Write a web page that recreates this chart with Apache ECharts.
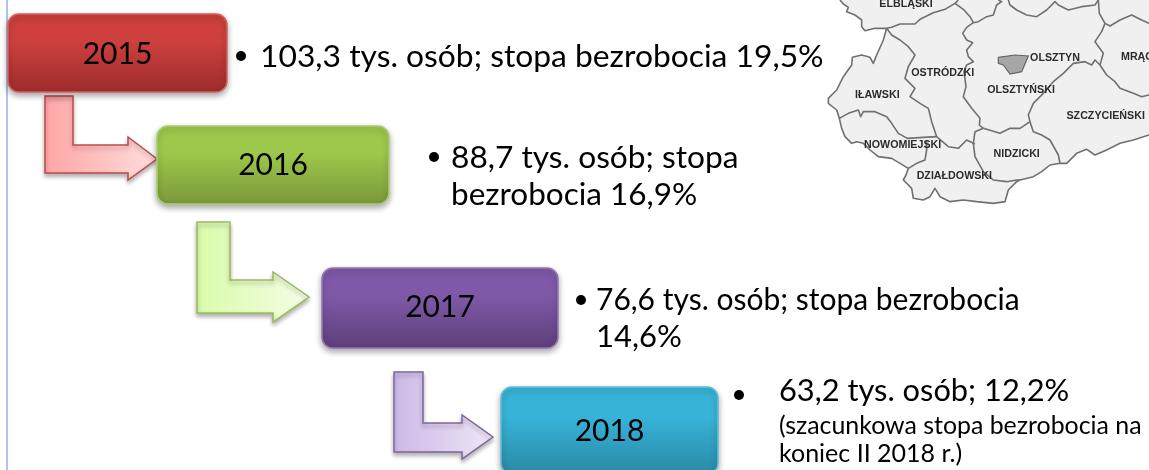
<!DOCTYPE html>
<html>
<head>
<meta charset="utf-8">
<style>html,body{margin:0;padding:0;background:#fff;overflow:hidden}#main{width:1149px;height:470px}</style>
<script src="https://cdn.jsdelivr.net/npm/echarts@6/dist/echarts.min.js"></script>
</head>
<body>
<div id="main"></div>
<script>
// dane
var years = ['2015', '2016', '2017', '2018'];
var unemployed = ['103,3', '88,7', '76,6', '63,2'];
var rates = ['19,5', '16,9', '14,6', '12,2'];
var note = ['(szacunkowa stopa bezrobocia na', 'koniec II 2018 r.)'];
var countyNames = ['ELBLĄSKI', 'OSTRÓDZKI', 'IŁAWSKI', 'OLSZTYN', 'OLSZTYŃSKI', 'SZCZYCIEŃSKI', 'NOWOMIEJSKI', 'NIDZICKI', 'DZIAŁDOWSKI', 'MRĄGOWSKI'];

// uklad - prostokaty lat [x0,y0,x1,y1]
var boxPos = [[8, 14, 227, 92], [157, 126, 389, 204], [322, 268, 558, 348], [501, 387, 718, 474]];
var boxTextY = [54, 165, 307, 431];
var boxTop = ['#CD403D', '#9DC84B', '#7F59A7', '#37B3D7'];
var boxBottom = ['#9C2D2B', '#7A9839', '#5E3E7B', '#2A88A6'];
var boxLine = ['#D2625F', '#AECB73', '#9277B3', '#62BDD6'];
// strzalki [xL, xR, top, innerY, headX, headTop, tipX, tipY, headBottom, shaftBottom]
var arrowPos = [
    [45, 73, 96, 145, 128, 137, 157, 159, 180, 173],
    [197, 230, 222, 280, 273, 272, 309, 297, 322, 313],
    [394, 423, 372, 423, 462, 415, 493, 437, 459, 452]
];
var arrowFrom = ['#FFA5A5', '#D9FBA9', '#CBB8E6'];
var arrowTo = ['#FFDEDC', '#F5FDE6', '#EEE8F6'];
var arrowLine = ['#BE4B48', '#9BBB59', '#8064A2'];

// teksty opisow
var textLines = [
    { t: unemployed[0] + ' tys. osób; stopa bezrobocia ' + rates[0] + '%', x: 260, y: 57, s: 31.8 },
    { t: unemployed[1] + ' tys. osób; stopa', x: 451, y: 158, s: 31.7 },
    { t: 'bezrobocia ' + rates[1] + '%', x: 451, y: 195, s: 31.5 },
    { t: unemployed[2] + ' tys. osób; stopa bezrobocia', x: 596, y: 300, s: 30 },
    { t: rates[2] + '%', x: 596, y: 337, s: 31 },
    { t: unemployed[3] + ' tys. osób; ' + rates[3] + '%', x: 779, y: 391, s: 30.8 },
    { t: note[0], x: 779, y: 426, s: 24.9 },
    { t: note[1], x: 779, y: 454, s: 25 }
];
var bulletPos = [[241, 56], [434, 157], [581, 300], [739, 395]];

// mapa - wspolrzedne w siatce 987x645
var landShape = [[60,0],[70,12],[85,22],[80,35],[105,45],[125,60],[125,80],[135,92],[165,85],[200,85],[190,120],[170,165],[160,190],[150,172],[125,165],[97,172],[95,195],[70,230],[50,270],[25,295],[25,310],[50,330],[58,355],[65,385],[75,410],[95,430],[110,425],[130,430],[150,450],[175,470],[215,475],[240,490],[265,505],[258,525],[250,540],[275,565],[280,595],[310,600],[330,590],[345,565],[360,590],[390,605],[430,600],[470,605],[520,610],[555,605],[565,570],[590,545],[600,540],[640,530],[665,515],[690,495],[720,490],[740,490],[770,460],[800,448],[825,465],[860,450],[900,430],[940,420],[987,405],[987,0]];
var borderLines = [
    [[60,0],[70,12],[85,22],[80,35],[105,45],[125,60],[125,80],[135,92],[165,85],[200,85],[215,82],[240,72],[285,72],[300,58],[340,38],[375,28],[405,10],[415,0]],
    [[405,10],[430,28],[450,50],[460,68],[440,82],[428,100],[440,120],[458,128],[440,150],[445,170],[460,185],[440,195],[432,215],[438,260],[430,290],[455,325],[480,355],[478,375],[490,385],[465,395],[460,430],[465,470],[490,515],[520,540],[560,545],[590,540],[600,540]],
    [[460,68],[475,65],[500,50],[520,45],[530,15],[545,5],[535,0]],
    [[200,85],[190,120],[170,165],[160,190],[150,172],[125,165],[97,172],[95,195],[70,230],[50,270],[25,295],[25,310],[50,330],[58,355],[65,385],[75,410],[95,430],[110,425],[130,430],[150,450],[175,470],[215,475],[240,490],[265,505],[258,525],[250,540],[275,565],[280,595],[310,600],[330,590],[345,565],[360,590],[390,605],[430,600],[470,605],[520,610],[555,605],[565,570],[590,545],[600,540],[640,530],[665,515],[690,495],[720,490],[740,490],[770,460],[800,448],[825,465],[860,450],[900,430],[940,420],[987,405]],
    [[200,85],[215,105],[240,120],[265,140],[285,165],[265,200],[255,235],[285,265],[270,290],[300,310],[325,325],[335,365],[350,410],[385,440],[415,445],[440,420],[465,432]],
    [[58,355],[85,340],[115,330],[122,350],[130,335],[165,335],[200,350],[215,370],[235,400],[262,415],[310,412],[350,410]],
    [[320,420],[320,450],[315,480],[290,490],[265,505]],
    [[565,0],[570,15],[590,30],[620,45],[650,50],[680,30],[705,5],[715,15],[745,30],[785,20],[825,15],[835,0]],
    [[835,0],[838,40],[855,70],[845,95],[825,125],[850,160],[840,195]],
    [[855,70],[870,78],[900,60],[935,45],[965,60],[987,70]],
    [[840,195],[825,180],[815,195],[795,185],[760,190],[730,220],[700,245],[670,280],[640,310],[625,345],[630,365],[600,385],[570,385],[540,400],[490,385]],
    [[840,195],[860,225],[885,245],[900,265],[940,280],[965,290],[987,285]],
    [[630,365],[640,395],[665,405],[690,420],[715,465],[720,490]]
];
var cityShape = [[535,172],[585,165],[625,168],[605,215],[570,222],[550,195],[535,190]];
var countyLabelPos = [[258,13],[368,220],[172,285],[705,175],[603,270],[857,347],[248,436],[590,463],[403,528],[903,172]];

function idx(arr) {
    return arr.map(function (d, i) { return [i]; });
}

var myChart = echarts.init(document.getElementById('main'), null, { renderer: 'canvas' });
var fontMain = 'Lato, "Open Sans", sans-serif';

var option = {
    animation: false,
    grid: [
        { left: 0, top: 0, width: 1149, height: 470 },
        { left: 820, top: 0, width: 329, height: 215 }
    ],
    xAxis: [
        { type: 'value', min: 0, max: 1149, show: false, gridIndex: 0 },
        { type: 'value', min: 0, max: 987, show: false, gridIndex: 1 }
    ],
    yAxis: [
        { type: 'value', min: 0, max: 470, inverse: true, show: false, gridIndex: 0 },
        { type: 'value', min: 0, max: 645, inverse: true, show: false, gridIndex: 1 }
    ],
    series: [
        // linia po lewej
        {
            type: 'custom', xAxisIndex: 0, yAxisIndex: 0, silent: true, clip: false, data: [[0]],
            renderItem: function (params, api) {
                var a = api.coord([7, 0]), b = api.coord([7, 470]);
                return { type: 'line', shape: { x1: a[0], y1: a[1], x2: b[0], y2: b[1] }, style: { stroke: '#AEC6EE', lineWidth: 2 } };
            }
        },
        // mapa - tlo
        {
            type: 'custom', xAxisIndex: 1, yAxisIndex: 1, silent: true, clip: true, data: [[0]],
            renderItem: function (params, api) {
                return {
                    type: 'polygon',
                    shape: { points: landShape.map(function (p) { return api.coord(p); }) },
                    style: { fill: '#F0F0F0' }
                };
            }
        },
        // mapa - granice
        {
            type: 'custom', xAxisIndex: 1, yAxisIndex: 1, silent: true, clip: true, data: idx(borderLines),
            renderItem: function (params, api) {
                return {
                    type: 'polyline',
                    shape: { points: borderLines[params.dataIndex].map(function (p) { return api.coord(p); }) },
                    style: { fill: null, stroke: '#707070', lineWidth: 1.6, lineJoin: 'round' }
                };
            }
        },
        {
            type: 'custom', xAxisIndex: 1, yAxisIndex: 1, silent: true, clip: true, data: [[0]],
            renderItem: function (params, api) {
                return {
                    type: 'polygon',
                    shape: { points: cityShape.map(function (p) { return api.coord(p); }) },
                    style: { fill: '#A6A6A6', stroke: '#666', lineWidth: 1.2 }
                };
            }
        },
        {
            type: 'custom', xAxisIndex: 1, yAxisIndex: 1, silent: true, clip: false, data: idx(countyNames),
            renderItem: function (params, api) {
                var i = params.dataIndex, p = api.coord(countyLabelPos[i]);
                return {
                    type: 'text', x: p[0], y: p[1],
                    style: {
                        text: countyNames[i], fill: '#2B2B2B', font: 'bold 10.7px "Liberation Sans", sans-serif',
                        align: i === 9 ? 'left' : 'center', verticalAlign: 'middle'
                    }
                };
            }
        },
        // strzalki
        {
            type: 'custom', xAxisIndex: 0, yAxisIndex: 0, silent: true, clip: false, data: idx(arrowPos),
            renderItem: function (params, api) {
                var i = params.dataIndex, a = arrowPos[i];
                var pts = [[a[0], a[2]], [a[1], a[2]], [a[1], a[3]], [a[4], a[3]], [a[4], a[5]], [a[6], a[7]], [a[4], a[8]], [a[4], a[9]], [a[0], a[9]]];
                return {
                    type: 'polygon',
                    shape: { points: pts.map(function (p) { return api.coord(p); }) },
                    style: {
                        fill: new echarts.graphic.LinearGradient(0, 0, 1, 0, [
                            { offset: 0, color: arrowFrom[i] }, { offset: 1, color: arrowTo[i] }
                        ]),
                        stroke: arrowLine[i], lineWidth: 1.5,
                        shadowColor: 'rgba(0,0,0,0.3)', shadowBlur: 4, shadowOffsetY: 3
                    }
                };
            }
        },
        // prostokaty
        {
            type: 'custom', xAxisIndex: 0, yAxisIndex: 0, silent: true, clip: false, data: idx(boxPos),
            renderItem: function (params, api) {
                var i = params.dataIndex, b = boxPos[i];
                var p0 = api.coord([b[0], b[1]]), p1 = api.coord([b[2], b[3]]);
                return {
                    type: 'group',
                    children: [{
                        type: 'rect',
                        shape: { x: p0[0], y: p0[1], width: p1[0] - p0[0], height: p1[1] - p0[1], r: 11 },
                        style: {
                            fill: new echarts.graphic.LinearGradient(0, 0, 0, 1, [
                                { offset: 0, color: boxTop[i] }, { offset: 0.35, color: boxTop[i] }, { offset: 1, color: boxBottom[i] }
                            ]),
                            stroke: boxLine[i], lineWidth: 1.5,
                            shadowColor: 'rgba(0,0,0,0.35)', shadowBlur: 6, shadowOffsetY: 3
                        }
                    }, {
                        type: 'text',
                        x: (p0[0] + p1[0]) / 2,
                        y: api.coord([0, boxTextY[i]])[1],
                        style: { text: years[i], fill: '#000', font: '30px ' + fontMain, align: 'center', verticalAlign: 'middle' }
                    }]
                };
            }
        },
        // punktory
        {
            type: 'custom', xAxisIndex: 0, yAxisIndex: 0, silent: true, clip: false, data: idx(bulletPos),
            renderItem: function (params, api) {
                var p = api.coord(bulletPos[params.dataIndex]);
                return { type: 'circle', shape: { cx: p[0], cy: p[1], r: 5 }, style: { fill: '#000' } };
            }
        },
        // opisy
        {
            type: 'custom', xAxisIndex: 0, yAxisIndex: 0, silent: true, clip: false, data: idx(textLines),
            renderItem: function (params, api) {
                var l = textLines[params.dataIndex], p = api.coord([l.x, l.y]);
                return {
                    type: 'text', x: p[0], y: p[1],
                    style: { text: l.t, fill: '#000', font: l.s + 'px ' + fontMain, align: 'left', verticalAlign: 'middle' }
                };
            }
        }
    ]
};
myChart.setOption(option);
</script>
</body>
</html>
